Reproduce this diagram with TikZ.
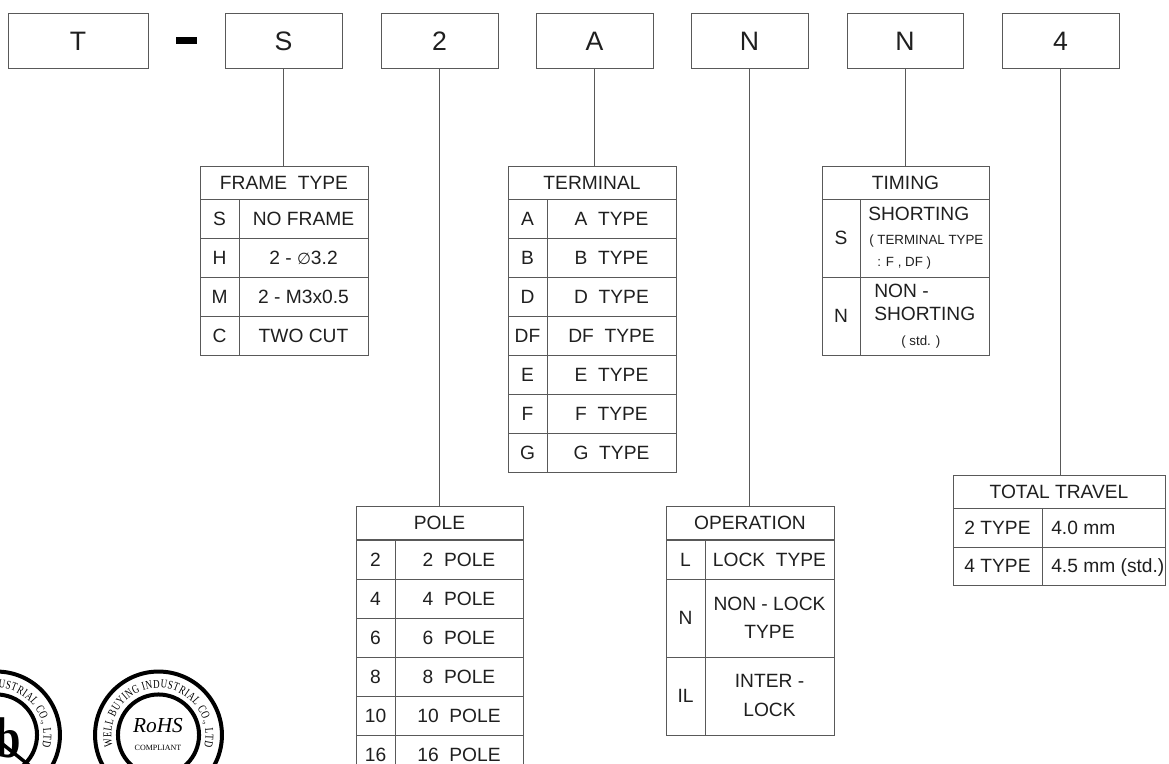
\documentclass[tikz,border=0pt]{standalone}
\usepackage{fontspec}
\setmainfont{Liberation Sans}
\newfontfamily\stampfont{Liberation Serif}
\newfontfamily\ringfont[FakeStretch=0.75]{Liberation Serif}
\newfontfamily\leadfont[FakeStretch=0.8]{Liberation Serif}
\newfontfamily\symbfont{DejaVu Sans}
\usetikzlibrary{calc,positioning,decorations.text}
\definecolor{rulegrey}{gray}{0.35}
\definecolor{inktext}{gray}{0.12}

\tikzset{
  partbox/.style={draw=rulegrey, line width=0.7pt, inner sep=0pt, outer sep=0pt, text=inktext,
    anchor=north west, font=\fontsize{20}{22}\selectfont, text height=14.4pt, text depth=0pt},
  cellbox/.style={partbox, font=\fontsize{14.4}{16}\selectfont, text height=10.3pt},
  cellline/.style={text=inktext, inner sep=0pt, font=\fontsize{14.4}{16}\selectfont, text height=10.3pt, text depth=0pt},
  smallline/.style={cellline, font=\fontsize{10}{12}\selectfont, text height=7.2pt},
  stampring/.style={draw=black, line width=3pt},
}

% name, left, divider, right, top, bottom, key, value
\newcommand{\partrow}[8]{
  \node[cellbox, minimum width={(#3-#2)*0.75pt}, minimum height={(#6-#5)*0.75pt}] (#1key) at (#2,#5) {#7};
  \node[cellbox, minimum width={(#4-#3)*0.75pt}, minimum height={(#6-#5)*0.75pt}] (#1val) at (#3,#5) {#8};
}
% name, left, right, top, text
\newcommand{\parttitle}[5]{
  \node[cellbox, minimum width={(#3-#2)*0.75pt}, minimum height={33*0.75pt}] (#1) at (#2,#4) {#5};
}
% name, centre x, ring text
\newcommand{\stampring}[3]{
  \coordinate (#1) at (#2,735);
  \draw[stampring] (#1) circle[radius=47.6pt];
  \draw[stampring] (#1) circle[radius=30.4pt];
  \path[decorate, decoration={text along path, text align={fit to path}, text={|\ringfont\fontsize{9}{10}\selectfont|#3}}]
    ([shift={(194:35.3pt)}]#1) arc[start angle=194, end angle=-14, radius=35.3pt];
}

\begin{document}
\begin{tikzpicture}[x=0.75pt,y=-0.75pt]
  \useasboundingbox (0,0) rectangle (1169,763);
  \clip (0,0) rectangle (1169,763);

  % code boxes along the top
  \foreach \boxname/\boxleft/\boxright/\boxtext in {T/8/148/T, S/225/342/S, 2/381/498/2, A/536/653/A, N/691/808/N, Nb/847/963/N, 4/1002/1119/4}
    \node[partbox, minimum width={(\boxright-\boxleft)*0.75pt}, minimum height={55.5*0.75pt}] (box\boxname) at (\boxleft,13) {\boxtext};
  \node[fill=black, inner sep=0pt, minimum width={21*0.75pt}, minimum height={7*0.75pt}] (hyphen) at (186.5,40.5) {};

  % frame type
  \parttitle{frametitle}{200}{368}{166}{FRAME~~TYPE}
  \foreach \rowtop/\rowkey/\rowtext in {199/S/NO FRAME, 238/H/{2 - {\symbfont\fontsize{12}{14}\selectfont ∅}3.2}, 277/M/2 - M3x0.5, 316/C/TWO CUT} {
    \partrow{frame\rowkey}{200}{239}{368}{\rowtop}{\rowtop+39}{\rowkey}{\rowtext}
  }

  % terminal
  \parttitle{terminaltitle}{508}{676}{166}{TERMINAL}
  \foreach \rowtop/\rowkey/\rowtext in {199/A/A~~TYPE, 238/B/B~~TYPE, 277/D/D~~TYPE, 316/DF/DF~~TYPE, 355/E/E~~TYPE, 394/F/F~~TYPE, 433/G/G~~TYPE} {
    \partrow{terminal\rowkey}{508}{547}{676}{\rowtop}{\rowtop+39}{\rowkey}{\rowtext}
  }

  % timing
  \parttitle{timingtitle}{822}{989}{166}{TIMING}
  \partrow{timingS}{822}{860}{989}{199}{277}{S}{}
  \partrow{timingN}{822}{860}{989}{277}{355}{N}{}
  \node[cellline, anchor=west] (shortingA) at (868,214) {SHORTING};
  \node[smallline, anchor=west] (shortingB) at (869,240) {( TERMINAL TYPE};
  \node[smallline, anchor=west] (shortingC) at (877,262) {: F , DF )};
  \node[cellline, anchor=west] (nonA) at (874,291) {NON -};
  \node[cellline, anchor=west] (nonB) at (874,314) {SHORTING};
  \node[smallline, anchor=west] (nonC) at (901,341) {( std. )};

  % pole
  \parttitle{poletitle}{356}{523}{506}{POLE}
  \foreach \rowtop/\rowkey in {540/2, 579/4, 618/6, 657/8, 696/10, 735/16} {
    \partrow{pole\rowkey}{356}{395}{523}{\rowtop}{\rowtop+39}{\rowkey}{\rowkey~~POLE}
  }

  % operation
  \parttitle{operationtitle}{666}{834}{506}{OPERATION}
  \partrow{operationL}{666}{705}{834}{540}{579}{L}{LOCK~~TYPE}
  \partrow{operationN}{666}{705}{834}{579}{657}{N}{}
  \partrow{operationIL}{666}{705}{834}{657}{735}{IL}{}
  \node[cellline] (nonlockA) at (769.5,604) {NON - LOCK};
  \node[cellline] (nonlockB) at (769.5,632) {TYPE};
  \node[cellline] (interA) at (769.5,681) {INTER -};
  \node[cellline] (interB) at (769.5,710) {LOCK};

  % total travel
  \parttitle{traveltitle}{953}{1165}{475}{TOTAL TRAVEL}
  \partrow{travelA}{953}{1042}{1165}{508}{547}{2 TYPE}{}
  \partrow{travelB}{953}{1042}{1165}{547}{585}{4 TYPE}{}
  \node[cellline, anchor=west] (travelAtext) at (1051,527.5) {4.0 mm};
  \node[cellline, anchor=west] (travelBtext) at (1051,566) {4.5 mm (std.)};

  % connectors
  \foreach \boxname/\tablename in {S/frametitle, 2/poletitle, A/terminaltitle, N/operationtitle, Nb/timingtitle, 4/traveltitle}
    \draw[rulegrey, line width=0.7pt] (box\boxname.south) -- (box\boxname.south |- \tablename.north);

  % stamps
  \stampring{stampleft}{-3.5}{WELL BUYING INDUSTRIAL CO., LTD}
  \node[font=\leadfont\bfseries\fontsize{43}{43}\selectfont, text=black, inner sep=0pt, anchor=base east] (leadmark) at (21,757) {b};
  \draw[black, line width=2.6pt] (-30,718) -- (30,766);
  \stampring{stampright}{158.5}{WELL BUYING INDUSTRIAL CO., LTD}
  \node[font=\stampfont\itshape\fontsize{16}{18}\selectfont, text=black, inner sep=0pt] (rohs) at (158,726) {RoHS};
  \node[font=\stampfont\fontsize{6}{7}\selectfont, text=black, inner sep=0pt] (compliant) at (158,748) {COMPLIANT};
\end{tikzpicture}
\end{document}
